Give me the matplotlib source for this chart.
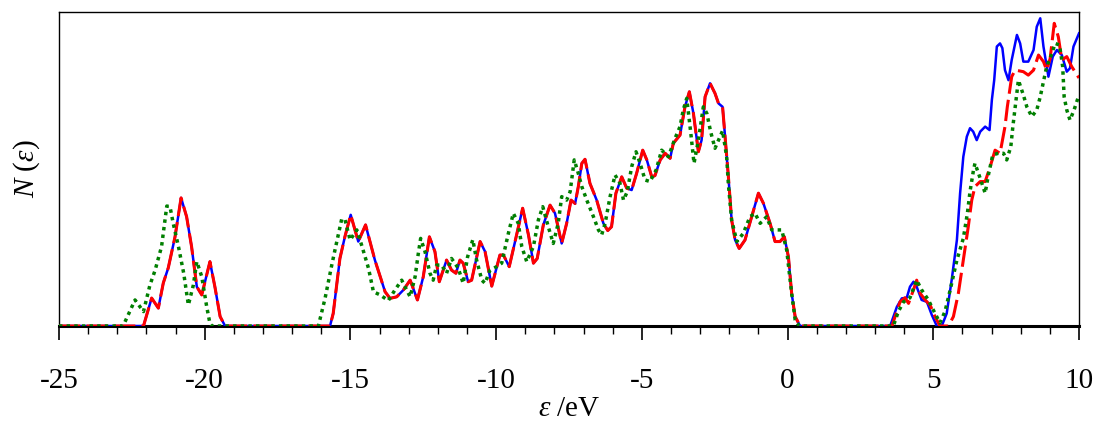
import numpy as np
import matplotlib.pyplot as plt
from matplotlib.ticker import MultipleLocator

plt.rcParams['font.family'] = ['Liberation Serif', 'DejaVu Serif']
plt.rcParams['mathtext.fontset'] = 'custom'
plt.rcParams['mathtext.rm'] = 'Liberation Serif'
plt.rcParams['mathtext.it'] = 'Liberation Serif:italic'
plt.rcParams['axes.unicode_minus'] = False

# valence band (blue and red nearly coincide here)
val_e = [-25, -22.1, -21.82, -21.59, -21.42, -21.25, -21.02, -20.81, -20.62, -20.45,
         -20.27, -20.1, -19.82, -19.65, -19.47, -19.3, -15.7, -15.59, -15.36, -15.19,
         -14.99, -14.73, -14.48, -14.16, -13.81, -13.64, -13.41, -13.18, -12.95, -12.7,
         -12.5, -12.29, -12.1, -11.95, -11.7, -11.53, -11.38, -11.24, -11.13, -10.96,
         -10.84, -10.55, -10.38, -10.15, -9.87, -9.75, -9.55, -9.35, -9.09, -8.89,
         -8.72, -8.59, -8.38, -8.15, -7.98, -7.75, -7.58, -7.43, -7.29, -7.18,
         -7.06, -6.95, -6.78, -6.55, -6.32, -6.17, -6.04, -5.89, -5.69, -5.52,
         -5.35, -5.18, -4.97, -4.83, -4.66, -4.55, -4.37, -4.2, -4.03, -3.92,
         -3.69, -3.52, -3.37, -3.23, -3.06, -2.95, -2.83, -2.66, -2.49, -2.37,
         -2.23, -2.03, -1.92, -1.8, -1.66, -1.46, -1.23, -1.0, -0.83, -0.6,
         -0.43, -0.26, -0.11, 0.03, 0.14, 0.26, 0.43]
val_n = [0, 0, 8.9, 5.7, 13.7, 18.5, 28.3, 40.8, 34.8, 25.3,
         12.5, 9.9, 20.5, 12.5, 3, 0, 0, 4, 21.5, 28.4,
         35.4, 26.9, 32.2, 21, 10.9, 8.8, 9.3, 11.5, 14.6, 8.3,
         15.7, 28.4, 23.7, 14.1, 21, 17.8, 16.8, 21, 20, 14.1,
         14.6, 26.9, 23.7, 12.7, 22.6, 22.6, 18.9, 26.9, 37.5, 29,
         20, 21.5, 32.2, 38.5, 35.9, 26.3, 32.7, 40.1, 39, 44.4,
         51.8, 53.1, 45.4, 40.1, 32.7, 30.4, 31.6, 42.3, 47.5, 43.9,
         43.3, 48.6, 56, 52.9, 47.5, 47.9, 52.9, 55, 53.4, 58.2,
         60.8, 69.8, 74.6, 67.7, 55.5, 59.2, 73, 77.3, 74.1, 70.9,
         69.8, 47.5, 33.8, 27.4, 24.7, 27.4, 34.8, 42.3, 39.1, 32.7,
         26.9, 26.9, 28.4, 22, 10.4, 3, 0]

# conduction band, blue
blue_ce = [3.52, 3.75, 3.92, 4.09, 4.2, 4.32, 4.43, 4.6, 4.78, 4.95, 5.12, 5.29,
           5.46, 5.63, 5.81, 5.92, 6.03, 6.15, 6.26, 6.37, 6.49, 6.61, 6.78, 6.93,
           7.01, 7.09, 7.18, 7.29, 7.37, 7.46, 7.58, 7.69, 7.87, 7.98, 8.09, 8.26,
           8.44, 8.55, 8.67, 8.78, 8.95, 9.1, 9.24, 9.41, 9.58, 9.69, 9.81, 10.0]
blue_cn = [0, 6.1, 8.8, 9, 12.5, 14.1, 12.5, 8.3, 7.7, 3.5, 0, 0,
           4, 14.6, 27.4, 42.3, 53.9, 60.3, 63, 61.9, 59.2, 61.9, 63.5, 62.4,
           72, 78.3, 89, 90, 88.5, 81.5, 78.3, 84.7, 92.7, 90, 84.2, 84.2,
           87.9, 95.3, 98, 89, 79.4, 85.8, 87.9, 86.3, 81, 82.1, 89, 93.2]

# conduction band, red
red_ce = [3.58, 3.86, 4.03, 4.15, 4.32, 4.43, 4.55, 4.72, 4.89, 5.06, 5.23, 5.52,
          5.69, 5.86, 6.03, 6.2, 6.32, 6.43, 6.61, 6.78, 6.95, 7.12, 7.29, 7.46,
          7.54, 7.69, 7.81, 8.09, 8.26, 8.44, 8.61, 8.78, 8.89, 9.01, 9.15, 9.29,
          9.41, 9.58, 9.75, 10.0]
red_cn = [0, 7.7, 9, 7.2, 11.5, 14.6, 10.4, 8.3, 6.7, 3, 0, 0,
          3, 10.4, 21, 31.6, 40.1, 44.4, 46, 46, 50.7, 56, 55, 63.5,
          69.8, 79.4, 81.5, 81, 79.9, 81.5, 86.3, 84.2, 81.5, 85.2, 96.4, 92.1,
          84.7, 85.8, 82.6, 79]

# green, whole range
green_e = [-25, -22.8, -22.39, -22.1, -21.88, -21.7, -21.48, -21.3, -21.19, -21.08,
           -20.9, -20.72, -20.56, -20.39, -20.27, -20.1, -19.93, -19.82, -19.75,
           -16.1, -15.87, -15.64, -15.53, -15.3, -15.19, -15.01, -14.78, -14.6, -14.38,
           -14.21, -13.98, -13.7, -13.47, -13.24, -12.95, -12.78, -12.67, -12.59, -12.44,
           -12.27, -12.16, -12.04, -11.87, -11.7, -11.53, -11.3, -11.13, -10.98, -10.8,
           -10.67, -10.49, -10.38, -10.21, -9.98, -9.81, -9.58, -9.41, -9.24, -9.12,
           -8.95, -8.72, -8.55, -8.4, -8.21, -8.04, -7.87, -7.75, -7.58, -7.46,
           -7.32, -7.18, -7.06, -6.89, -6.66, -6.49, -6.38, -6.26, -6.09, -5.92,
           -5.75, -5.63, -5.5, -5.35, -5.2, -5.06, -4.89, -4.72, -4.51, -4.32,
           -4.09, -3.86, -3.69, -3.58, -3.46, -3.32, -3.21, -3.06, -2.89, -2.77,
           -2.64, -2.49, -2.37, -2.23, -2.09, -2.03, -1.92, -1.74, -1.52, -1.29,
           -1.12, -0.94, -0.72, -0.54, -0.2, -0.03, 0.14, 0.26, 0.4,
           3.63, 3.8, 3.98, 4.2, 4.43, 4.6, 4.83, 5.06, 5.23, 5.4,
           5.58, 5.81, 6.03, 6.17, 6.26, 6.38, 6.43, 6.61, 6.78, 6.89,
           7.04, 7.23, 7.41, 7.52, 7.66, 7.73, 7.81, 7.92, 8.09, 8.21,
           8.38, 8.55, 8.67, 8.78, 8.89, 9.07, 9.18, 9.33, 9.44, 9.49,
           9.58, 9.69, 9.83, 10.0]
green_n = [0, 0, 8.3, 4.6, 13, 17.8, 25.3, 38.2, 38, 32.7,
           25.3, 16.8, 6.7, 13, 20.5, 15.7, 6.1, 0.8, 0,
           0, 8.8, 19.4, 24.2, 34, 34, 27.4, 30.6, 25.3, 18.4,
           10.9, 9.9, 8.1, 11.5, 14.6, 9.3, 15.7, 23.1, 27.9, 23.7,
           16.8, 14.6, 19.4, 19.4, 16.8, 21.5, 18.4, 13.6, 22, 27.5,
           21, 14.6, 13.6, 17.8, 18.9, 20, 29.5, 35.9, 32.7, 25.3,
           20.5, 25.3, 33.8, 38, 31.6, 26.3, 32.7, 41.2, 40.1, 42.8,
           52.9, 48.6, 44.4, 40.1, 34.8, 30.6, 29, 32.7, 41.2, 48.1,
           45.4, 40.1, 42.8, 50.7, 55.5, 51.8, 46.5, 46, 49.7, 56,
           53.9, 59.8, 63.5, 68.8, 72.5, 61.4, 51.8, 59.2, 69.8, 67.7,
           61.9, 56.6, 59.2, 62.2, 53.9, 45, 33.8, 26.9, 29.5, 34.8,
           35.9, 32.7, 34.8, 30.6, 30.6, 24.2, 10.4, 2, 0,
           0, 4.6, 7.7, 9, 14.6, 11.5, 8.3, 4, 1, 4.6,
           11.5, 21, 27.9, 35.9, 42.8, 49.7, 51.8, 47, 42.3, 48.1,
           54.5, 55, 55, 52.9, 57.1, 63.5, 69.8, 78.3, 73.6, 69.8,
           66.7, 68.8, 73, 77.8, 82.6, 86.8, 90, 89.5, 82.6, 73,
           68.8, 65.6, 68.8, 73.6]

blue_e = np.concatenate([val_e, blue_ce, [10.0]])
blue_n = np.concatenate([val_n, blue_cn, [blue_cn[-1]]])
red_e = np.concatenate([val_e, red_ce])
red_n = np.concatenate([val_n, red_cn])

fig = plt.figure(figsize=(10.96, 4.23), dpi=100)
ax = fig.add_axes([0.0538, 0.2293, 0.9307, 0.7423])

ax.plot(blue_e, blue_n, color='#0000ff', lw=1.8, zorder=3)
ax.plot(red_e, red_n, color='#ff0000', lw=2.2, ls=(0, (7, 2)), zorder=4)
ax.plot(green_e, green_n, color='#007f00', lw=2.5, ls=(0, (1, 1.2)), zorder=5)

ax.set_xlim(-25, 10)
ax.set_ylim(0, 100)
ax.xaxis.set_major_locator(MultipleLocator(5))
ax.xaxis.set_minor_locator(MultipleLocator(1))
ax.tick_params(axis='x', which='major', direction='out', length=10, width=1.2,
               labelsize=21, pad=20)
ax.tick_params(axis='x', which='minor', direction='out', length=6, width=1)
ax.set_yticks([])
ax.spines['bottom'].set_linewidth(2.2)
for s in ['left', 'right', 'top']:
    ax.spines[s].set_linewidth(1.0)

ax.set_xlabel(r'$\varepsilon$ /eV', fontsize=21, labelpad=2)
ax.set_ylabel(r'$N$ ($\varepsilon$)', fontsize=21, labelpad=12)

fig.savefig('out.png', dpi=100)
